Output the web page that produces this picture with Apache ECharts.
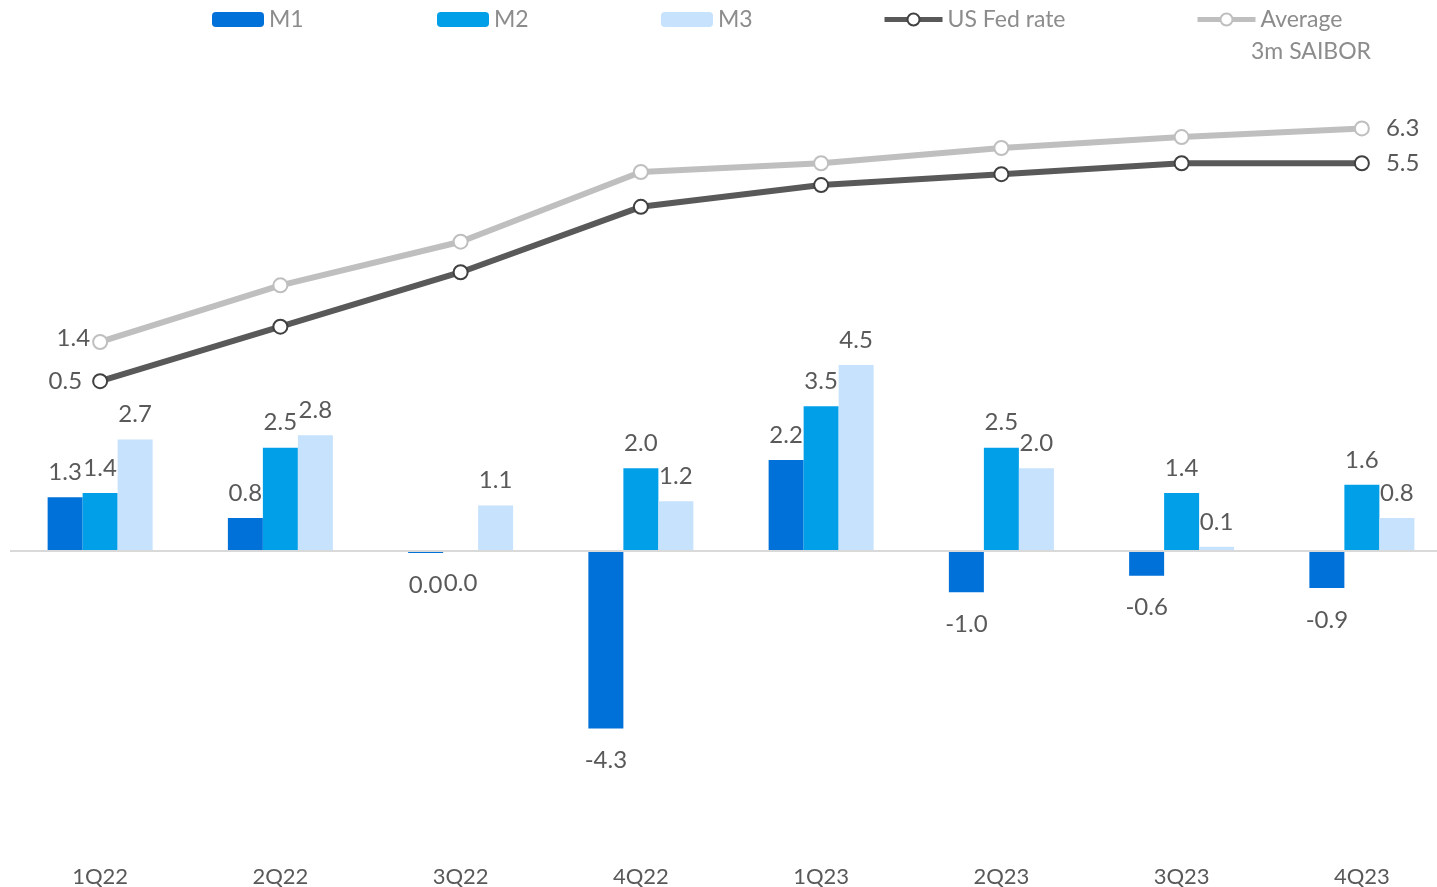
<!DOCTYPE html>
<html>
<head>
<meta charset="utf-8">
<script src="https://cdn.jsdelivr.net/npm/echarts@6/dist/echarts.min.js"></script>
<style>
html, body { margin: 0; padding: 0; background: #fff; }
#main { width: 1437px; height: 887px; }
</style>
</head>
<body>
<div id="main"></div>
<script>
const quarters = ["1Q22", "2Q22", "3Q22", "4Q22", "1Q23", "2Q23", "3Q23", "4Q23"];
const m1 = [1.3, 0.8, -0.05, -4.3, 2.2, -1.0, -0.6, -0.9];
const m2 = [1.4, 2.5, -0.02, 2.0, 3.5, 2.5, 1.4, 1.6];
const m3 = [2.7, 2.8, 1.1, 1.2, 4.5, 2.0, 0.1, 0.8];
const fedRate = [0.5, 1.75, 3.0, 4.5, 5.0, 5.25, 5.5, 5.5];
const saibor = [1.4, 2.7, 3.7, 5.3, 5.5, 5.85, 6.1, 6.3];

const FONT = "Lato";
const LABEL_COLOR = "#595959";

function fmt(v) {
    return (Math.round(v * 10) / 10).toFixed(1);
}

function barData(arr) {
    return arr.map((v) => ({
        value: v,
        label: v < 0 ? { position: "bottom", distance: 20 } : { position: "top", distance: 13 },
    }));
}

// only first and last point get a value label
function endLabels(arr, leftGap, leftLift) {
    return arr.map((v, i) => {
        if (i === 0) return { value: v, label: { show: true, position: "left", distance: leftGap, offset: [0, leftLift] } };
        if (i === arr.length - 1) return { value: v, label: { show: true, position: "right", distance: 16 } };
        return v;
    });
}

const barLabel = {
    show: true,
    color: LABEL_COLOR,
    fontFamily: FONT,
    fontSize: 24,
    formatter: (p) => fmt(p.value),
};

const lineLabel = {
    show: false,
    color: LABEL_COLOR,
    fontFamily: FONT,
    fontSize: 24,
    formatter: (p) => fmt(p.value),
};

const legendText = { color: "#8c8c8c", fontFamily: FONT, fontSize: 23 };

const myChart = echarts.init(document.getElementById("main"));
const option = {
    animation: false,
    grid: { left: 10, right: -15, top: 80, bottom: 25, outerBoundsMode: "none", containLabel: false },
    legend: [
        { data: ["M1"], left: 207, top: 3, itemWidth: 52, itemHeight: 15, itemGap: 6, textStyle: legendText },
        { data: ["M2"], left: 432, top: 3, itemWidth: 52, itemHeight: 15, itemGap: 6, textStyle: legendText },
        { data: ["M3"], left: 656, top: 3, itemWidth: 52, itemHeight: 15, itemGap: 6, textStyle: legendText },
        { data: ["US Fed rate"], left: 877, top: 3, itemWidth: 58, itemHeight: 15, itemGap: 3, textStyle: legendText,
          lineStyle: { width: 5 } },
        { data: ["Average 3m SAIBOR"], left: 1190, top: 3, itemWidth: 58, itemHeight: 15, itemGap: 3, textStyle: legendText,
          lineStyle: { width: 5 }, formatter: () => "Average" },
    ],
    graphic: [
        { type: "text", left: 1251, top: 40, style: { text: "3m SAIBOR", fill: "#8c8c8c", font: "23px Lato" } },
    ],
    xAxis: {
        type: "category",
        data: quarters,
        axisLine: { show: false },
        axisTick: { show: false },
        axisLabel: { color: LABEL_COLOR, fontFamily: FONT, fontSize: 22, margin: 4 },
    },
    yAxis: [
        { type: "value", min: -7.53, max: 11.40, show: false, splitLine: { show: false } },
        { type: "value", min: -10.53, max: 7.41, show: false, splitLine: { show: false } },
    ],
    series: [
        {
            name: "M1", type: "bar", barWidth: 35, barGap: "0%",
            itemStyle: { color: "#0071d9" },
            label: barLabel,
            data: barData(m1),
            markLine: {
                silent: true, symbol: "none", label: { show: false },
                lineStyle: { color: "#d9d9d9", width: 2, type: "solid" },
                data: [{ yAxis: 0 }],
            },
        },
        {
            name: "M2", type: "bar", barWidth: 35, barGap: "0%",
            itemStyle: { color: "#009fe8" },
            label: barLabel,
            data: barData(m2),
        },
        {
            name: "M3", type: "bar", barWidth: 35, barGap: "0%",
            itemStyle: { color: "#c6e2fc" },
            label: barLabel,
            data: barData(m3),
        },
        {
            name: "Average 3m SAIBOR", type: "line", yAxisIndex: 1,
            symbol: "emptyCircle", symbolSize: 14,
            lineStyle: { color: "#bfbfbf", width: 6 },
            itemStyle: { color: "#bfbfbf", borderColor: "#bfbfbf", borderWidth: 2 },
            label: lineLabel,
            data: endLabels(saibor, 2, -4),
        },
        {
            name: "US Fed rate", type: "line", yAxisIndex: 1,
            symbol: "emptyCircle", symbolSize: 14,
            lineStyle: { color: "#595959", width: 6 },
            itemStyle: { color: "#404040", borderColor: "#404040", borderWidth: 2 },
            label: lineLabel,
            data: endLabels(fedRate, 10, 0),
        },
    ],
};
myChart.setOption(option);
</script>
</body>
</html>
